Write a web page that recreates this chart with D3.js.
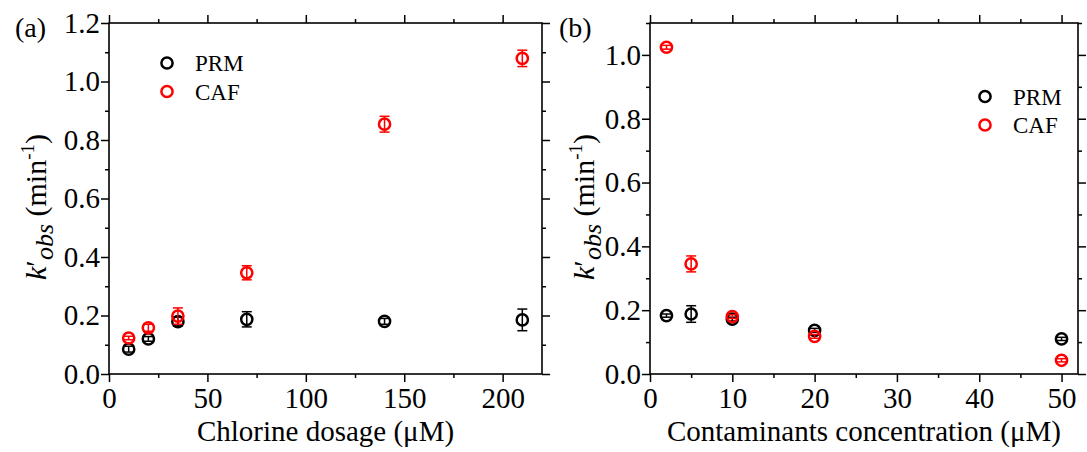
<!DOCTYPE html>
<html>
<head>
<meta charset="utf-8">
<script src="https://cdn.jsdelivr.net/npm/d3@7"></script>
<style>
  body { margin: 0; background: #fff; }
  svg text { font-family: "Liberation Serif", "Times New Roman", serif; fill: #000; }
</style>
</head>
<body>
<div id="chart"></div>
<script>
// panel (a): chlorine dosage
const doseA = [10, 20, 35, 70, 140, 210];
const prmA = [0.085, 0.12, 0.179, 0.187, 0.18, 0.185];
const prmErrA = [0.01, 0.008, 0.015, 0.026, 0.01, 0.037];
const cafA = [0.123, 0.158, 0.198, 0.346, 0.854, 1.079];
const cafErrA = [0.006, 0.012, 0.028, 0.024, 0.027, 0.028];

// panel (b): contaminants concentration
const concB = [2, 5, 10, 20, 50];
const prmB = [0.183, 0.188, 0.172, 0.137, 0.11];
const prmErrB = [0.005, 0.026, 0.006, 0.006, 0.005];
const cafB = [1.024, 0.345, 0.18, 0.118, 0.043];
const cafErrB = [0.006, 0.025, 0.006, 0.006, 0.005];

const seriesNames = ["PRM", "CAF"];
const seriesColors = ["#000000", "#ff0000"];

const width = 1087, height = 452;

const svg = d3.select("#chart")
  .append("svg")
  .attr("width", width)
  .attr("height", height);

function drawPanel(cfg) {
  const x = d3.scaleLinear().domain(cfg.xDomain).range([cfg.left, cfg.right]);
  const y = d3.scaleLinear().domain(cfg.yDomain).range([cfg.bottom, cfg.top]);
  const g = svg.append("g");

  const xMajor = d3.range(cfg.xDomain[0], cfg.xDomain[1] + 1e-9, cfg.xStep);
  const xMinor = d3.range(cfg.xStep / 2, cfg.xDomain[1] + 1e-9, cfg.xStep).filter(v => !xMajor.includes(v));
  const yMajor = d3.range(0, cfg.yDomain[1] + 1e-9, 0.2).map(v => +v.toFixed(2));
  const yMinor = d3.range(0.1, cfg.yDomain[1] + 1e-9, 0.2).map(v => +v.toFixed(2));

  // minor ticks on all four sides
  const minor = [
    [d3.axisBottom(x), xMinor, `translate(0,${cfg.bottom})`],
    [d3.axisTop(x), xMinor, `translate(0,${cfg.top})`],
    [d3.axisLeft(y), yMinor, `translate(${cfg.left},0)`],
    [d3.axisRight(y), yMinor, `translate(${cfg.right},0)`]
  ];
  minor.forEach(([ax, vals, tr]) => {
    g.append("g").attr("transform", tr)
      .call(ax.tickValues(vals).tickSize(4).tickSizeOuter(0).tickFormat(""))
      .call(s => s.select(".domain").remove())
      .selectAll("line").attr("stroke-width", 1.5);
  });

  // major ticks, labels only bottom and left
  const major = [
    [d3.axisBottom(x).tickFormat(d3.format("d")).tickPadding(5), xMajor, `translate(0,${cfg.bottom})`],
    [d3.axisTop(x).tickFormat(""), xMajor, `translate(0,${cfg.top})`],
    [d3.axisLeft(y).tickFormat(d3.format(".1f")).tickPadding(1), yMajor, `translate(${cfg.left},0)`],
    [d3.axisRight(y).tickFormat(""), yMajor, `translate(${cfg.right},0)`]
  ];
  major.forEach(([ax, vals, tr]) => {
    const a = g.append("g").attr("transform", tr)
      .call(ax.tickValues(vals).tickSize(8).tickSizeOuter(0))
      .call(s => s.select(".domain").remove());
    a.selectAll("line").attr("stroke-width", 1.5);
    a.selectAll("text").attr("font-size", 29);
  });

  // frame
  g.append("rect")
    .attr("x", cfg.left).attr("y", cfg.top)
    .attr("width", cfg.right - cfg.left).attr("height", cfg.bottom - cfg.top)
    .attr("fill", "none").attr("stroke", "#000").attr("stroke-width", 1.6);

  // series: error bars + open circles
  cfg.series.forEach((s, i) => {
    const rows = cfg.xs.map((xv, j) => ({ x: xv, y: s.vals[j], e: s.errs[j] }));
    const color = seriesColors[i];
    const eg = g.append("g").attr("stroke", color).attr("stroke-width", 1.5);
    eg.selectAll("line.v").data(rows).join("line").attr("class", "v")
      .attr("x1", d => x(d.x)).attr("x2", d => x(d.x))
      .attr("y1", d => y(d.y - d.e)).attr("y2", d => y(d.y + d.e));
    eg.selectAll("line.t").data(rows).join("line").attr("class", "t")
      .attr("x1", d => x(d.x) - 5).attr("x2", d => x(d.x) + 5)
      .attr("y1", d => y(d.y + d.e)).attr("y2", d => y(d.y + d.e));
    eg.selectAll("line.b").data(rows).join("line").attr("class", "b")
      .attr("x1", d => x(d.x) - 5).attr("x2", d => x(d.x) + 5)
      .attr("y1", d => y(d.y - d.e)).attr("y2", d => y(d.y - d.e));
    g.selectAll(null).data(rows).join("circle")
      .attr("cx", d => x(d.x)).attr("cy", d => y(d.y))
      .attr("r", 5.6)
      .attr("fill", "none").attr("stroke", color).attr("stroke-width", 2.5);
  });

  // legend
  seriesNames.forEach((name, i) => {
    const ly = cfg.legendY + i * 28.5;
    g.append("circle").attr("cx", cfg.legendX).attr("cy", ly).attr("r", 5.6)
      .attr("fill", "none").attr("stroke", seriesColors[i]).attr("stroke-width", 2.5);
    g.append("text").attr("x", cfg.legendX + 28).attr("y", ly + 8)
      .attr("font-size", 23).text(name);
  });

  // panel label
  g.append("text").attr("x", cfg.labelX).attr("y", 37).attr("font-size", 28).text(cfg.label);

  // x title
  g.append("text")
    .attr("x", (cfg.left + cfg.right) / 2).attr("y", 441)
    .attr("text-anchor", "middle").attr("font-size", 29)
    .text(cfg.xTitle);

  // y title
  const yt = g.append("text")
    .attr("transform", `translate(${cfg.yTitleX},207) rotate(-90)`)
    .attr("text-anchor", "middle").attr("font-size", 30);
  yt.append("tspan").attr("font-style", "italic").text("k");
  yt.append("tspan").text("′");
  yt.append("tspan").attr("font-style", "italic").attr("font-size", 26).attr("dy", 7).text("obs");
  yt.append("tspan").attr("dy", -7).text(" (min");
  yt.append("tspan").attr("font-size", 19).attr("dy", -12).text("-1");
  yt.append("tspan").attr("dy", 12).text(")");
}

drawPanel({
  left: 109, right: 542, top: 23, bottom: 374,
  xDomain: [0, 220], xStep: 50, yDomain: [0, 1.2],
  xs: doseA,
  series: [{ vals: prmA, errs: prmErrA }, { vals: cafA, errs: cafErrA }],
  legendX: 167, legendY: 63,
  label: "(a)", labelX: 15,
  xTitle: "Chlorine dosage (μM)",
  yTitleX: 46
});

drawPanel({
  left: 650, right: 1078, top: 23, bottom: 374,
  xDomain: [0, 52], xStep: 10, yDomain: [0, 1.1],
  xs: concB,
  series: [{ vals: prmB, errs: prmErrB }, { vals: cafB, errs: cafErrB }],
  legendX: 985, legendY: 96.5,
  label: "(b)", labelX: 559,
  xTitle: "Contaminants concentration (μM)",
  yTitleX: 594
});
</script>
</body>
</html>
